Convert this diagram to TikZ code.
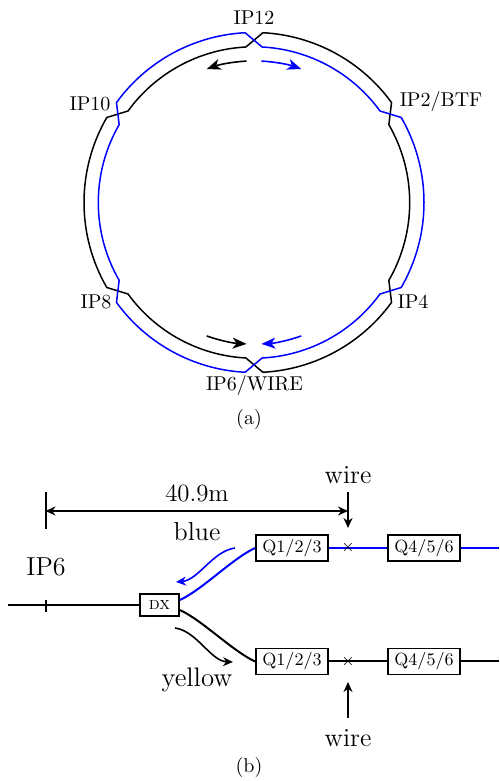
\documentclass[tikz,border=0pt]{standalone}
\usepackage{amsmath,amssymb}
\usetikzlibrary{arrows.meta}
\tikzset{
  magnet/.style={draw,fill=white,line width=0.95pt,inner sep=0pt,font=\fontsize{8.8}{10}\selectfont},
  quad/.style={magnet,minimum width=36pt,minimum height=13pt},
  bigtext/.style={font=\fontsize{13}{15}\selectfont},
  ring/.style={line width=0.75pt},
  beam/.style={line width=1pt},
  flow/.style={line width=0.8pt,-{Stealth[length=7pt,width=5.5pt,inset=2pt]}},
  pointer/.style={line width=0.8pt,-{Stealth[length=5pt,width=4.5pt,inset=1.6pt]}}
}
\begin{document}
\begin{tikzpicture}[x=0.5pt,y=0.5pt]
  \useasboundingbox (0,0) rectangle (499,781);
  \def\Rout{85pt}
  \def\Rin{77.85pt}
  \def\Rflow{70.8pt}
  % ring
  \begin{scope}[shift={(254,578.5)}]
    \draw[ring,black] (87:\Rout) arc[start angle=87,end angle=36,radius=\Rout]
      -- (30:\Rin) arc[start angle=30,end angle=-30,radius=\Rin]
      -- (-36:\Rout) arc[start angle=-36,end angle=-87,radius=\Rout]
      -- (-93:\Rin) arc[start angle=-93,end angle=-144,radius=\Rin]
      -- (-150:\Rout) arc[start angle=-150,end angle=-210,radius=\Rout]
      -- (-216:\Rin) arc[start angle=-216,end angle=-267,radius=\Rin] -- cycle;
    \draw[ring,blue] (87:\Rin) arc[start angle=87,end angle=36,radius=\Rin]
      -- (30:\Rout) arc[start angle=30,end angle=-30,radius=\Rout]
      -- (-36:\Rin) arc[start angle=-36,end angle=-87,radius=\Rin]
      -- (-93:\Rout) arc[start angle=-93,end angle=-144,radius=\Rout]
      -- (-150:\Rin) arc[start angle=-150,end angle=-210,radius=\Rin]
      -- (-216:\Rout) arc[start angle=-216,end angle=-267,radius=\Rout] -- cycle;
    \draw[flow,black] (93:\Rflow) arc[start angle=93,end angle=109.5,radius=\Rflow];
    \draw[flow,blue] (87:\Rflow) arc[start angle=87,end angle=70.5,radius=\Rflow];
    \draw[flow,black] (-109.5:\Rflow) arc[start angle=-109.5,end angle=-93,radius=\Rflow];
    \draw[flow,blue] (-70.5:\Rflow) arc[start angle=-70.5,end angle=-87,radius=\Rflow];
  \end{scope}
  \node (ip12) at (254,763) {IP12};
  \node (ip2) at (441,679) {IP2/BTF};
  \node (ip10) at (90,677) {IP10};
  \node (ip8) at (96,479) {IP8};
  \node (ip4) at (413,479) {IP4};
  \node (ip6) at (254.5,395) {IP6/WIRE};
  \node (capa) at (249,361) {(a)};
  % insertion region
  \node[magnet,minimum width=19.5pt,minimum height=11pt] (dx) at (159.5,176) {\textsc{dx}};
  \node[quad] (qbi) at (292,233) {Q1/2/3};
  \node[quad] (qbo) at (424,233) {Q4/5/6};
  \node[quad] (qyi) at (292,119.5) {Q1/2/3};
  \node[quad] (qyo) at (424,119.5) {Q4/5/6};
  \coordinate (inleft) at (8,176);
  \coordinate (outb) at (499,233);
  \coordinate (outy) at (499,119.5);
  \coordinate (tickt) at (45.5,181);
  \coordinate (tickb) at (45.5,169);
  \coordinate (dimt) at (45.5,289);
  \coordinate (dimb) at (45.5,252);
  \coordinate (dima) at (45.5,270);
  \coordinate (dimz) at (348,270);
  \coordinate (wiret) at (348,289);
  \coordinate (wiretz) at (348,253);
  \coordinate (wireb) at (348,63);
  \coordinate (wirebz) at (348,99);
  \draw[line width=1.2pt,blue] (inleft) -- (dx.west);
  \draw[line width=0.9pt,black] (inleft) -- (dx.west);
  \draw[line width=1pt] (tickt) -- (tickb);
  \draw[line width=1pt] (dimt) -- (dimb);
  \draw[pointer,{Stealth[length=5pt,width=4.5pt,inset=1.6pt]}-{Stealth[length=5pt,width=4.5pt,inset=1.6pt]}] (dima) -- (dimz);
  \draw[pointer] (wiret) -- (wiretz);
  \draw[pointer] (wireb) -- (wirebz);
  \draw[beam,blue] (dx.east |- 0,181) to[out=25,in=205,looseness=0.7] (qbi.west);
  \draw[beam,black] (dx.east |- 0,171) to[out=-25,in=155,looseness=0.7] (qyi.west);
  \draw[beam,blue] (qbi.east) -- (qbo.west);
  \draw[beam,blue] (qbo.east) -- (outb);
  \draw[beam,black] (qyi.east) -- (qyo.west);
  \draw[beam,black] (qyo.east) -- (outy);
  \node[inner sep=0pt,font=\footnotesize] (crossb) at (348,233) {$\times$};
  \node[inner sep=0pt,font=\footnotesize] (crossy) at (348,119.5) {$\times$};
  \coordinate (blues) at (235,233);
  \coordinate (bluee) at (176,199);
  \coordinate (yels) at (175,153);
  \coordinate (yele) at (233,119);
  \draw[pointer,blue] (blues) to[out=188,in=5,looseness=0.85] (bluee);
  \draw[pointer,black] (yels) to[out=-8,in=178,looseness=0.85] (yele);
  \node[bigtext,font=\fontsize{12.4}{15}\selectfont] (dist) at (197,288) {40.9m};
  \node[bigtext] (bluelab) at (197,249) {blue};
  \node[bigtext,font=\fontsize{13.4}{15}\selectfont] (yellab) at (197,101) {yellow};
  \node[bigtext] (iplab) at (46,214) {IP6};
  \node[bigtext] (wireup) at (348,306) {wire};
  \node[bigtext] (wiredn) at (348,43) {wire};
  \node (capb) at (249,14) {(b)};
\end{tikzpicture}
\end{document}
